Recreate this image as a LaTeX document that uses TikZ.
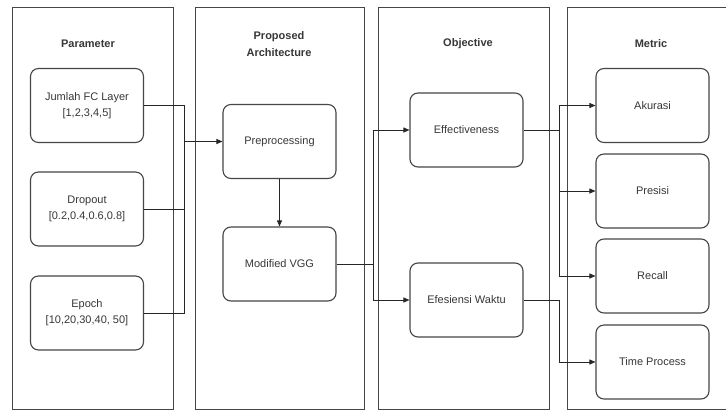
\documentclass[tikz,border=0pt]{standalone}
\usepackage{fontspec}
\setmainfont{Liberation Sans}
\usetikzlibrary{arrows.meta}
\definecolor{framegray}{RGB}{70,70,70}
\definecolor{textgray}{RGB}{55,55,55}
\tikzset{
    panel/.style={line width=0.9pt, draw=framegray},
    stage/.style={draw=framegray, line width=1.1pt, rounded corners=8pt, minimum width=113pt, minimum height=74pt, align=center, text=textgray, font=\fontsize{11}{16}\selectfont, inner sep=2pt},
    title/.style={align=center, text=textgray, font=\bfseries\fontsize{11}{17}\selectfont},
    link/.style={line width=0.9pt, draw=black!85},
    linkarrow/.style={link, -{Triangle[length=6pt,width=5pt]}}
}
\begin{document}
\begin{tikzpicture}[x=1pt,y=-1pt]
    \clip (0,0) rectangle (726,410);
    \fill[white] (0,0) rectangle (726,410);
    \draw[panel] (12,7) rectangle (173,409);
    \draw[panel] (195,7) rectangle (364,409);
    \draw[panel] (378,7) rectangle (549,409);
    \draw[panel] (567,7) rectangle (740,409);
    \node[title] (paramtitle) at (88,44) {Parameter};
    \node[title] (archtitle) at (279,44) {Proposed\\Architecture};
    \node[title] (objtitle) at (468,44) {Objective};
    \node[title] (metrictitle) at (651,44) {Metric};
    \node[stage] (jumlah) at (87,105.5) {Jumlah FC Layer\\{[1,2,3,4,5]}};
    \node[stage] (dropout) at (87,209) {Dropout\\{[0.2,0.4,0.6,0.8]}};
    \node[stage] (epoch) at (87,313) {Epoch\\{[10,20,30,40, 50]}};
    \node[stage] (preproc) at (279.5,141.5) {Preprocessing};
    \node[stage] (vgg) at (279.5,264) {Modified VGG};
    \node[stage] (effect) at (466.5,130) {Effectiveness};
    \node[stage] (efisien) at (466.5,300) {Efesiensi Waktu};
    \node[stage] (akurasi) at (652.5,105.5) {Akurasi};
    \node[stage] (presisi) at (652.5,191) {Presisi};
    \node[stage] (recall) at (652.5,276) {Recall};
    \node[stage] (timeproc) at (652.5,362) {Time Process};
    \coordinate (pjoin) at (184,141.5);
    \coordinate (ojoin) at (373,264);
    \coordinate (mjoin) at (559,130);
    \coordinate (tjoin) at (559,300);
    \draw[link] (jumlah.east) -| (pjoin);
    \draw[link] (epoch.east) -| (pjoin);
    \draw[link] (dropout.east) -- (dropout.east -| pjoin);
    \draw[linkarrow] (pjoin) -- (preproc.west);
    \draw[linkarrow] (preproc) -- (vgg);
    \draw[link] (vgg.east) -- (ojoin);
    \draw[linkarrow] (ojoin) |- (effect.west);
    \draw[linkarrow] (ojoin) |- (efisien.west);
    \draw[link] (effect.east) -- (mjoin);
    \draw[linkarrow] (mjoin) |- (akurasi.west);
    \draw[linkarrow] (mjoin) |- (presisi.west);
    \draw[linkarrow] (mjoin) |- (recall.west);
    \draw[linkarrow] (efisien.east) -- (tjoin) |- (timeproc.west);
\end{tikzpicture}
\end{document}
